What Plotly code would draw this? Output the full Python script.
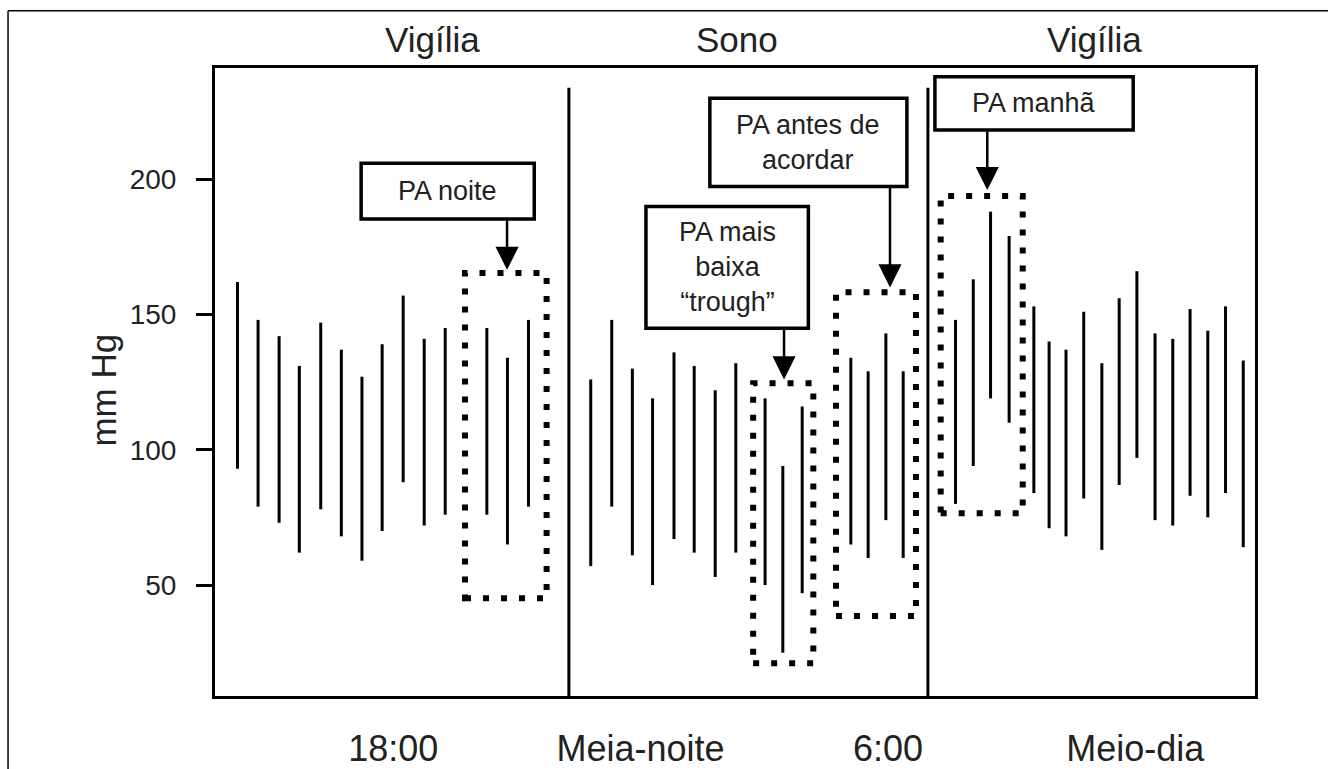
import plotly.graph_objects as go

# ---- data ----
hours = [14.22, 14.72, 15.23, 15.72, 16.24, 16.74, 17.24, 17.73, 18.24, 18.75, 19.26,
         20.27, 20.77, 21.28,
         22.79, 23.30, 23.80, 24.29, 24.81, 25.30, 25.81, 26.31,
         27.02, 27.45, 27.92,
         29.10, 29.52, 29.95, 30.37,
         31.64, 32.07, 32.49, 32.94,
         33.54, 33.91, 34.32, 34.75, 35.19, 35.61, 36.04, 36.48, 36.91, 37.33, 37.76, 38.19, 38.62]
systolic = [162, 148, 142, 131, 147, 137, 127, 139, 157, 141, 145,
            145, 134, 148,
            126, 148, 130, 119, 136, 131, 122, 132,
            119, 94, 116,
            134, 129, 143, 129,
            148, 163, 188, 179,
            153, 140, 137, 151, 132, 156, 166, 143, 141, 152, 144, 153, 133]
diastolic = [93, 79, 73, 62, 78, 68, 59, 70, 88, 72, 76,
             76, 65, 79,
             57, 79, 61, 50, 67, 62, 53, 62,
             50, 25, 47,
             65, 60, 74, 60,
             80, 94, 119, 110,
             84, 71, 68, 82, 63, 87, 97, 74, 72, 83, 75, 84, 64]

x_tick_vals = [18, 24, 30, 36]
x_tick_text = ["18:00", "Meia-noite", "6:00", "Meio-dia"]
y_tick_vals = [50, 100, 150, 200]

sleep_start = 22.26
sleep_end = 30.97
period_labels = ["Vigília", "Sono", "Vigília"]

# highlighted windows: (x0, x1, y0, y1)
windows = [(19.74, 21.72, 45.1, 165.3),
           (26.73, 28.19, 21.1, 124.6),
           (28.74, 30.68, 38.6, 158.2),
           (31.28, 33.27, 76.5, 193.8)]
# callout boxes: (text, x0, x1, y0, y1, arrow_x, arrow_tail_y, arrow_tip_y)
callouts = [("PA noite", 17.22, 21.42, 185.3, 205.9, 20.76, 185.3, 166.5),
            ("PA mais<br>baixa<br>“trough”", 24.13, 28.07, 144.9, 189.9, 27.48, 144.9, 126.0),
            ("PA antes de<br>acordar", 25.68, 30.46, 197.3, 229.9, 30.05, 197.3, 160.0),
            ("PA manhã", 31.14, 35.95, 218.2, 237.9, 32.41, 218.2, 196.0)]

FONT = "Liberation Sans, Arial, Helvetica, sans-serif"
TXT = "#222222"

# ---- build bars ----
bx, by = [], []
for h, s, d in zip(hours, systolic, diastolic):
    bx += [h, h, None]
    by += [d, s, None]

fig = go.Figure()
fig.add_trace(go.Scatter(x=bx, y=by, mode="lines",
                         line=dict(color="black", width=3), hoverinfo="skip",
                         showlegend=False))

shapes = []
annotations = []

# sleep separators
for xs in (sleep_start, sleep_end):
    shapes.append(dict(type="line", xref="x", yref="y", x0=xs, x1=xs, y0=9, y1=233.8,
                       line=dict(color="black", width=3)))

# dotted windows
for (x0, x1, y0, y1) in windows:
    shapes.append(dict(type="rect", xref="x", yref="y", x0=x0, x1=x1, y0=y0, y1=y1,
                       line=dict(color="black", width=6, dash="6px,12px")))

# callouts
for (t, x0, x1, y0, y1, ax_, tail, tip) in callouts:
    shapes.append(dict(type="rect", xref="x", yref="y", x0=x0, x1=x1, y0=y0, y1=y1,
                       line=dict(color="black", width=3.5), fillcolor="white"))
    annotations.append(dict(x=(x0 + x1) / 2, y=(y0 + y1) / 2, xref="x", yref="y",
                            text=t, showarrow=False,
                            font=dict(family=FONT, size=27, color=TXT)))
    annotations.append(dict(x=ax_, y=tip, ax=ax_, ay=tail, xref="x", yref="y",
                            axref="x", ayref="y", text="", showarrow=True,
                            arrowhead=2, arrowwidth=2.5, arrowsize=1.85,
                            arrowcolor="black"))

# period labels on top
for lab, xc in zip(period_labels, [18.95, 26.33, 35.0]):
    annotations.append(dict(x=xc, y=1.0446, xref="x", yref="paper", text=lab,
                            showarrow=False, yanchor="middle",
                            font=dict(family=FONT, size=35, color=TXT)))

# y-axis title
annotations.append(dict(x=-0.128, y=0.487, xref="paper", yref="paper", text="mm Hg",
                        textangle=-90, showarrow=False,
                        font=dict(family=FONT, size=35, color=TXT)))

# outer frame (top and left edges of the figure box)
shapes.append(dict(type="line", xref="paper", yref="paper", x0=-0.199, x1=1.2,
                   y0=1.0913, y1=1.0913, line=dict(color="black", width=1.5)))
shapes.append(dict(type="line", xref="paper", yref="paper", x0=-0.199, x1=-0.199,
                   y0=-0.2, y1=1.0913, line=dict(color="black", width=1.5)))

fig.update_layout(
    width=1328, height=769,
    margin=dict(l=215, r=73, t=68, b=73),
    paper_bgcolor="white", plot_bgcolor="white",
    shapes=shapes, annotations=annotations,
    font=dict(family=FONT, color=TXT),
)
fig.update_xaxes(range=[13.675, 38.905], showgrid=False, zeroline=False,
                 automargin=False,
                 showline=True, linecolor="black", linewidth=3, mirror=True,
                 tickmode="array", tickvals=x_tick_vals, ticktext=x_tick_text,
                 ticks="", ticklabelstandoff=19,
                 tickfont=dict(family=FONT, size=36, color=TXT))
fig.update_yaxes(range=[9.0, 241.1], showgrid=False, zeroline=False,
                 automargin=False,
                 showline=True, linecolor="black", linewidth=3, mirror=True,
                 tickmode="array", tickvals=y_tick_vals,
                 ticks="outside", ticklen=16, tickwidth=3, tickcolor="black",
                 ticklabelstandoff=14,
                 tickfont=dict(family=FONT, size=28, color=TXT))

fig.write_html("out.html", config={"displayModeBar": False},
               post_script="document.body.style.margin='0';")
